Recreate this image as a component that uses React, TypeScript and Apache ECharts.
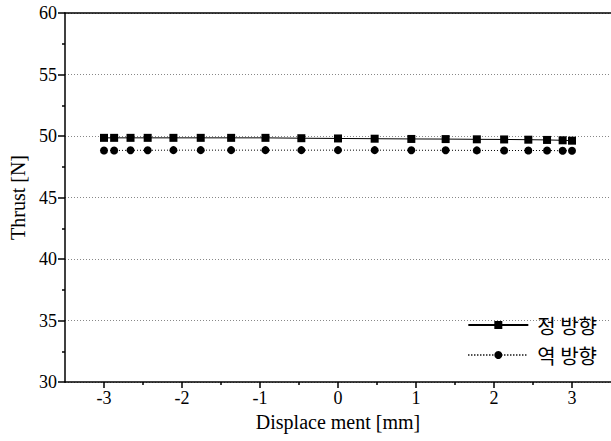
import React, { useEffect, useRef } from "react";
import * as echarts from "echarts";

const displacement = [-3.0, -2.87, -2.66, -2.44, -2.11, -1.76, -1.37, -0.93, -0.47, 0, 0.47, 0.94, 1.38, 1.78, 2.13, 2.44, 2.68, 2.88, 3.0];
const forwardThrust = [49.85, 49.85, 49.85, 49.85, 49.85, 49.85, 49.85, 49.85, 49.82, 49.8, 49.78, 49.76, 49.75, 49.73, 49.72, 49.7, 49.68, 49.65, 49.62];
const reverseThrust = [48.82, 48.82, 48.84, 48.84, 48.85, 48.85, 48.85, 48.85, 48.85, 48.85, 48.85, 48.84, 48.84, 48.83, 48.82, 48.82, 48.82, 48.8, 48.8];
const xMajorTicks = [-3, -2, -1, 0, 1, 2, 3];
const xMinorTicks = [-2.5, -1.5, -0.5, 0.5, 1.5, 2.5];
const seriesNames = ["정 방향", "역 방향"];

const serif = "'Liberation Serif', 'Times New Roman', serif";

export default function App() {
  const ref = useRef<HTMLDivElement>(null);
  useEffect(() => {
    if (!ref.current) return;
    const chart = echarts.init(ref.current, null, { renderer: "svg" });
    const pair = (ys: number[]) => displacement.map((x, i) => [x, ys[i]]);
    chart.setOption({
      animation: false,
      backgroundColor: "#fff",
      grid: { left: 65, right: 0, top: 13, bottom: 59 },
      legend: {
        orient: "vertical",
        right: 14,
        top: 315,
        padding: 0,
        itemWidth: 60,
        itemHeight: 10,
        itemGap: 10,
        textStyle: { fontFamily: "'Noto Sans CJK KR', sans-serif", fontSize: 20, color: "#000", padding: [0, 0, 0, 4] },
        data: seriesNames,
      },
      xAxis: [
        {
          type: "value",
          min: -3.5,
          max: 3.5,
          interval: 0.5,
          position: "bottom",
          axisLine: { show: true, onZero: false, lineStyle: { color: "#000", width: 1.5 } },
          axisTick: { show: true, customValues: xMajorTicks, length: 6, inside: false, lineStyle: { color: "#000", width: 1.5 } },
          axisLabel: { customValues: xMajorTicks, color: "#000", fontFamily: serif, fontSize: 18, margin: 7 },
          splitLine: { show: false },
          name: "Displace ment [mm]",
          nameLocation: "middle",
          nameGap: 30,
          nameTextStyle: { fontFamily: serif, fontSize: 20, color: "#000" },
        },
        {
          type: "value",
          min: -3.5,
          max: 3.5,
          interval: 0.5,
          position: "bottom",
          offset: 0,
          axisLine: { show: false, onZero: false },
          axisTick: { show: true, customValues: xMinorTicks, length: 3, lineStyle: { color: "#000", width: 1.5 } },
          axisLabel: { show: false },
          splitLine: { show: false },
        },
        {
          type: "value",
          min: -3.5,
          max: 3.5,
          position: "top",
          axisLine: { show: true, onZero: false, lineStyle: { color: "#000", width: 1.5 } },
          axisTick: { show: false },
          axisLabel: { show: false },
          splitLine: { show: false },
        },
      ],
      yAxis: {
        type: "value",
        min: 30,
        max: 60,
        interval: 5,
        axisLine: { show: true, onZero: false, lineStyle: { color: "#000", width: 1.5 } },
        axisTick: { show: true, length: 7, lineStyle: { color: "#000", width: 1.5 } },
        minorTick: { show: true, splitNumber: 2, length: 3, lineStyle: { color: "#000", width: 1.5 } },
        axisLabel: { color: "#000", fontFamily: serif, fontSize: 18, margin: 8 },
        splitLine: { show: true, lineStyle: { color: "#888", type: [1, 2], width: 1 } },
        name: "Thrust [N]",
        nameLocation: "middle",
        nameGap: 36,
        nameTextStyle: { fontFamily: serif, fontSize: 20, color: "#000" },
      },
      series: [
        {
          name: seriesNames[0],
          type: "line",
          xAxisIndex: 0,
          data: pair(forwardThrust),
          symbol: "rect",
          symbolSize: 8,
          itemStyle: { color: "#000" },
          lineStyle: { color: "#000", width: 1, type: "solid" },
        },
        {
          name: seriesNames[1],
          type: "line",
          xAxisIndex: 0,
          data: pair(reverseThrust),
          symbol: "circle",
          symbolSize: 8,
          itemStyle: { color: "#000" },
          lineStyle: { color: "#000", width: 1, type: [1, 2] },
        },
      ],
    });
    return () => chart.dispose();
  }, []);
  return <div ref={ref} style={{ width: 611, height: 441, position: "absolute", left: 0, top: 0 }} />;
}
